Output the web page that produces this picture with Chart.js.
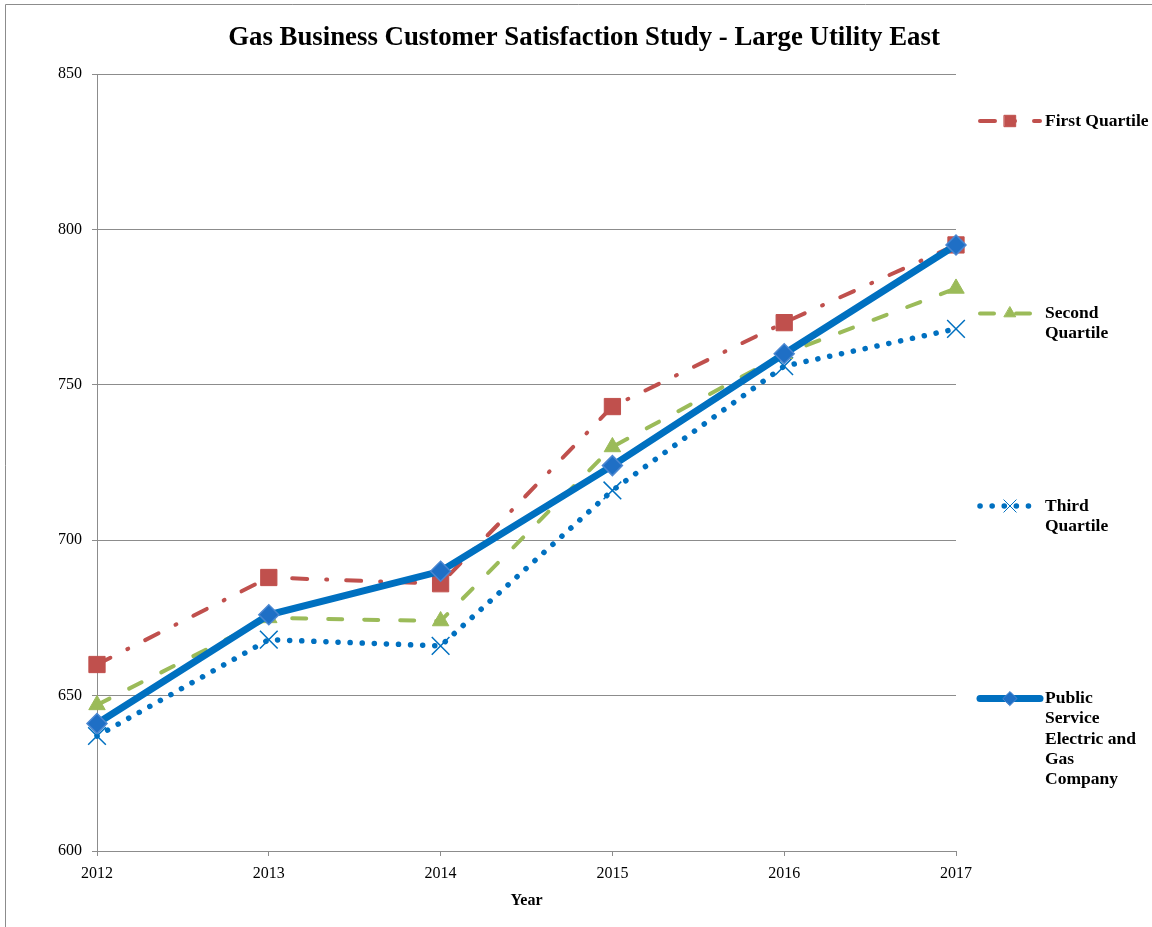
<!DOCTYPE html>
<html>
<head>
<meta charset="utf-8">
<script src="https://cdn.jsdelivr.net/npm/chart.js@4.4.0/dist/chart.umd.min.js"></script>
<style>
  body { margin: 0; background: #fff; }
  canvas { display: block; }
</style>
</head>
<body>
<canvas id="lineChart" width="1152" height="927"></canvas>
<script>
const years = ["2012", "2013", "2014", "2015", "2016", "2017"];
const firstQuartile = [660, 688, 686, 743, 770, 795];
const secondQuartile = [647, 675, 674, 730, 760, 781];
const thirdQuartile = [637, 668, 666, 716, 756, 768];
const pseg = [641, 676, 690, 724, 760, 795];
const yTicks = [600, 650, 700, 750, 800, 850];

const chartTitle = "Gas Business Customer Satisfaction Study - Large Utility East";
const serif = "'Liberation Serif', 'Times New Roman', serif";

// legend drawn by hand so the labels can wrap like the original
const sideLegend = {
  id: "sideLegend",
  afterDraw(chart) {
    const ctx = chart.ctx;
    const rowTop = 121, rowGap = 192.5;
    chart.data.datasets.forEach((ds, i) => {
      const y = rowTop + i * rowGap;
      ctx.save();
      ctx.strokeStyle = ds.borderColor;
      ctx.lineWidth = ds.borderWidth;
      ctx.lineCap = ds.borderCapStyle || "butt";
      ctx.setLineDash(ds.borderDash || []);
      ctx.beginPath();
      ctx.moveTo(980, y);
      ctx.lineTo(1040, y);
      ctx.stroke();
      ctx.setLineDash([]);
      ctx.fillStyle = ds.pointBackgroundColor;
      ctx.strokeStyle = ds.pointBorderColor;
      ctx.lineWidth = 1;
      Chart.helpers.drawPoint(ctx, {
        pointStyle: ds.pointStyle,
        radius: ds.pointRadius * 0.7,
        rotation: 0,
        borderWidth: 1
      }, 1010, y);
      ctx.fillStyle = "#000";
      ctx.font = "bold 17.5px " + serif;
      ctx.textBaseline = "middle";
      ds.label.split("\n").forEach((line, k) => {
        ctx.fillText(line, 1045, y + k * 20.3);
      });
      ctx.restore();
    });
  }
};

const frameAndTitle = {
  id: "frameAndTitle",
  beforeDraw(chart) {
    const ctx = chart.ctx;
    ctx.save();
    ctx.fillStyle = "#fff";
    ctx.fillRect(0, 0, chart.width, chart.height);
    ctx.strokeStyle = "#8c8c8c";
    ctx.lineWidth = 1;
    ctx.beginPath();
    ctx.moveTo(5.5, chart.height);
    ctx.lineTo(5.5, 4.5);
    ctx.lineTo(chart.width, 4.5);
    ctx.stroke();
    ctx.fillStyle = "#000";
    ctx.font = "bold 26.8px " + serif;
    ctx.textAlign = "center";
    ctx.textBaseline = "middle";
    ctx.fillText(chartTitle, 584, 38);
    ctx.restore();
  }
};

const data = {
  labels: years,
  datasets: [
    {
      label: "First Quartile",
      data: firstQuartile,
      borderColor: "#C0504D",
      borderWidth: 4,
      borderDash: [15, 19, 1, 19],
      borderCapStyle: "round",
      pointStyle: "rect",
      pointRadius: 11.5,
      pointBackgroundColor: "#C0504D",
      pointBorderColor: "#C0504D",
      pointBorderWidth: 1,
      order: 1
    },
    {
      label: "Second\nQuartile",
      data: secondQuartile,
      borderColor: "#9BBB59",
      borderWidth: 4,
      borderDash: [14, 22],
      borderCapStyle: "round",
      pointStyle: "triangle",
      pointRadius: 9.5,
      pointBackgroundColor: "#9BBB59",
      pointBorderColor: "#9BBB59",
      pointBorderWidth: 1,
      order: 2
    },
    {
      label: "Third\nQuartile",
      data: thirdQuartile,
      borderColor: "#0070C0",
      borderWidth: 5.5,
      borderDash: [0.1, 12],
      borderCapStyle: "round",
      pointStyle: "crossRot",
      pointRadius: 12.5,
      pointBackgroundColor: "#0070C0",
      pointBorderColor: "#0070C0",
      pointBorderWidth: 1.5,
      order: 3
    },
    {
      label: "Public\nService\nElectric and\nGas\nCompany",
      data: pseg,
      borderColor: "#0070C0",
      borderWidth: 7,
      borderCapStyle: "round",
      pointStyle: "rectRot",
      pointRadius: 10,
      pointBackgroundColor: "#1F6FC5",
      pointBorderColor: "#4A86D0",
      pointBorderWidth: 1.5,
      order: 0
    }
  ]
};

const options = {
  responsive: false,
  animation: false,
  devicePixelRatio: 1,
  layout: { padding: { top: 74, right: 196, left: 0, bottom: 0 } },
  elements: { line: { tension: 0, fill: false } },
  plugins: {
    legend: { display: false },
    title: { display: false },
    tooltip: { enabled: false }
  },
  scales: {
    x: {
      offset: false,
      afterFit(scale) { scale.height = 76; },
      grid: { drawOnChartArea: false, drawTicks: true, tickLength: 5, color: "#8c8c8c" },
      border: { display: true, color: "#8c8c8c", width: 1 },
      ticks: { color: "#000", font: { family: serif, size: 16 }, padding: 8, maxRotation: 0 },
      title: {
        display: true,
        text: "Year",
        color: "#000",
        font: { family: serif, size: 16, weight: "bold" },
        padding: { top: 0, bottom: 17 }
      }
    },
    y: {
      min: 600,
      max: 850,
      afterFit(scale) { scale.width = 97; },
      afterBuildTicks(scale) { scale.ticks = yTicks.map(v => ({ value: v })); },
      grid: { color: "#8c8c8c", lineWidth: 1, drawTicks: true, tickLength: 5 },
      border: { display: true, color: "#8c8c8c", width: 1 },
      ticks: { color: "#000", font: { family: serif, size: 16 }, padding: 10 }
    }
  }
};

const chart = new Chart(document.getElementById("lineChart"), {
  type: "line",
  data: data,
  options: options,
  plugins: [frameAndTitle, sideLegend]
});
</script>
</body>
</html>
